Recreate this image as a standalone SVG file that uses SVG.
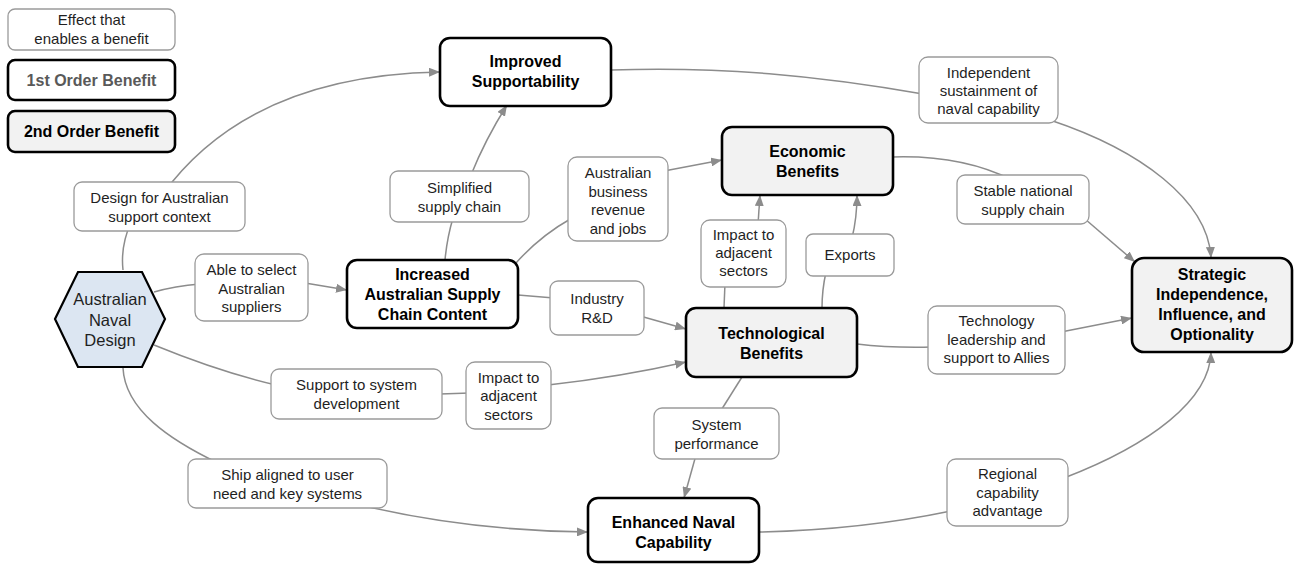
<svg xmlns="http://www.w3.org/2000/svg" width="1301" height="565" viewBox="0 0 1301 565">
<style>
  text { font-family: "Liberation Sans", Arial, sans-serif; fill: #1f1f1f; text-anchor: middle; }
  .lbl rect { fill: #ffffff; stroke: #9a9a9a; stroke-width: 1.3; }
  .lbl text { font-size: 15px; }
  .n1 rect { fill: #ffffff; stroke: #000000; stroke-width: 2.6; }
  .n2 rect { fill: #f2f2f2; stroke: #000000; stroke-width: 2.6; }
  .n1 text, .n2 text { font-size: 16px; font-weight: bold; fill: #000000; }
  .conn path { fill: none; stroke: #8c8c8c; stroke-width: 1.5; }
  .arr { marker-end: url(#ah); }
</style>
<defs>
  <marker id="ah" markerUnits="userSpaceOnUse" markerWidth="11" markerHeight="9" refX="11" refY="4.5" orient="auto">
    <path d="M0,0 L11,4.5 L0,9 z" fill="#8c8c8c"/>
  </marker>
</defs>
<rect width="1301" height="565" fill="#ffffff"/>

<g id="connectors" class="conn">
  <!-- Hex -> Design for Australian support context -> Improved Supportability -->
  <path d="M123,270 C 121,252 124,238 131,222"/>
  <path class="arr" d="M162,195 C 225,108 325,74 440,72"/>
  <!-- Hex -> Able to select -> Increased -->
  <path d="M154,292 Q 175,286 200,284"/>
  <path class="arr" d="M305,283 L347,290"/>
  <!-- Hex -> Support to system development -> Impact -> Technological -->
  <path d="M154,345 Q 220,372 276,385"/>
  <path d="M440,394 L470,393"/>
  <path class="arr" d="M548,385 Q 620,377 686,362"/>
  <!-- Hex -> Ship aligned -> Enhanced -->
  <path d="M123,368 C 125,410 170,440 218,463"/>
  <path class="arr" d="M360,505 Q 470,531 588,532"/>
  <!-- Increased -> Simplified -> Improved -->
  <path d="M445,260 Q 447,238 453,218"/>
  <path class="arr" d="M471,175 Q 485,140 507,105"/>
  <!-- Increased -> Australian business -> Economic -->
  <path d="M516,263 Q 540,236 572,218"/>
  <path class="arr" d="M664,171 L722,160"/>
  <!-- Increased -> Industry R&D -> Technological -->
  <path d="M518,295 L554,298"/>
  <path class="arr" d="M640,316 L686,329"/>
  <!-- Technological -> Impact (upper) -> Economic -->
  <path d="M724,308 L725,283"/>
  <path class="arr" d="M758,224 L760,195"/>
  <!-- Technological -> Exports -> Economic -->
  <path d="M822,308 Q 822,290 826,272"/>
  <path class="arr" d="M852,238 Q 857,218 857,195"/>
  <!-- Technological -> Technology leadership -> Strategic -->
  <path d="M857,344 Q 890,348 932,347"/>
  <path class="arr" d="M1061,332 L1132,318"/>
  <!-- Technological -> System performance -> Enhanced -->
  <path d="M742,377 L720,412"/>
  <path class="arr" d="M696,455 L684,498"/>
  <!-- Improved -> Independent sustainment -> Strategic -->
  <path d="M611,70 C 720,66 820,76 923,94"/>
  <path class="arr" d="M1050,120 C 1140,150 1208,200 1211,258"/>
  <!-- Economic -> Stable national -> Strategic -->
  <path d="M893,157 Q 962,155 1012,180"/>
  <path class="arr" d="M1085,219 L1135,262"/>
  <!-- Enhanced -> Regional -> Strategic -->
  <path d="M759,532 Q 860,530 951,511"/>
  <path class="arr" d="M1064,478 C 1150,445 1210,400 1211,352"/>
</g>

<g id="legend-effect" class="lbl">
  <rect x="8" y="9" width="167" height="41" rx="7"/>
  <text x="91.5" y="25">Effect that</text>
  <text x="91.5" y="44">enables a benefit</text>
</g>
<g id="legend-first" class="n1">
  <rect x="8" y="60" width="167" height="40" rx="7"/>
  <text x="91.5" y="86" style="fill:#595959">1st Order Benefit</text>
</g>
<g id="legend-second" class="n2">
  <rect x="8" y="111" width="167" height="41" rx="7"/>
  <text x="91.5" y="137">2nd Order Benefit</text>
</g>

<g id="australian-naval-design">
  <polygon points="55,319 78,272 142,272 165,319 142,367 78,367" fill="#dce6f2" stroke="#000000" stroke-width="2.2"/>
  <text x="110" y="305" style="font-size:16.5px">Australian</text>
  <text x="110" y="325.5" style="font-size:16.5px">Naval</text>
  <text x="110" y="346" style="font-size:16.5px">Design</text>
</g>

<g id="improved-supportability" class="n1">
  <rect x="440" y="38" width="171" height="68" rx="10"/>
  <text x="525.5" y="67">Improved</text>
  <text x="525.5" y="87">Supportability</text>
</g>
<g id="economic-benefits" class="n2">
  <rect x="722" y="127" width="171" height="68" rx="10"/>
  <text x="807.5" y="157">Economic</text>
  <text x="807.5" y="177">Benefits</text>
</g>
<g id="strategic" class="n2">
  <rect x="1132" y="258" width="160" height="94" rx="12"/>
  <text x="1212" y="280">Strategic</text>
  <text x="1212" y="300">Independence,</text>
  <text x="1212" y="320">Influence, and</text>
  <text x="1212" y="340">Optionality</text>
</g>
<g id="increased-supply-chain" class="n1">
  <rect x="347" y="260" width="171" height="68" rx="10"/>
  <text x="432.5" y="280">Increased</text>
  <text x="432.5" y="300">Australian Supply</text>
  <text x="432.5" y="320">Chain Content</text>
</g>
<g id="technological-benefits" class="n2">
  <rect x="686" y="308" width="171" height="69" rx="10"/>
  <text x="771.5" y="338.5">Technological</text>
  <text x="771.5" y="358.5">Benefits</text>
</g>
<g id="enhanced-naval-capability" class="n1">
  <rect x="588" y="498" width="171" height="64" rx="10"/>
  <text x="673.5" y="527.5">Enhanced Naval</text>
  <text x="673.5" y="547.5">Capability</text>
</g>

<g id="lbl-design-support" class="lbl">
  <rect x="74" y="182" width="171" height="49" rx="8"/>
  <text x="159.5" y="203">Design for Australian</text>
  <text x="159.5" y="222">support context</text>
</g>
<g id="lbl-simplified" class="lbl">
  <rect x="390" y="171" width="139" height="51" rx="8"/>
  <text x="459.5" y="193">Simplified</text>
  <text x="459.5" y="212">supply chain</text>
</g>
<g id="lbl-business" class="lbl">
  <rect x="568" y="157" width="100" height="84" rx="9"/>
  <text x="618" y="178">Australian</text>
  <text x="618" y="196.5">business</text>
  <text x="618" y="215">revenue</text>
  <text x="618" y="233.5">and jobs</text>
</g>
<g id="lbl-independent" class="lbl">
  <rect x="919" y="57" width="139" height="66" rx="9"/>
  <text x="988.5" y="78">Independent</text>
  <text x="988.5" y="96">sustainment of</text>
  <text x="988.5" y="114">naval capability</text>
</g>
<g id="lbl-stable" class="lbl">
  <rect x="957" y="175" width="132" height="49" rx="8"/>
  <text x="1023" y="196">Stable national</text>
  <text x="1023" y="214.5">supply chain</text>
</g>
<g id="lbl-impact-upper" class="lbl">
  <rect x="701" y="220" width="85" height="67" rx="9"/>
  <text x="743.5" y="240">Impact to</text>
  <text x="743.5" y="258">adjacent</text>
  <text x="743.5" y="276">sectors</text>
</g>
<g id="lbl-exports" class="lbl">
  <rect x="806" y="234" width="88" height="42" rx="7"/>
  <text x="850" y="260">Exports</text>
</g>
<g id="lbl-able-select" class="lbl">
  <rect x="195" y="254" width="113" height="67" rx="9"/>
  <text x="251.5" y="275">Able to select</text>
  <text x="251.5" y="293.5">Australian</text>
  <text x="251.5" y="312">suppliers</text>
</g>
<g id="lbl-industry-rd" class="lbl">
  <rect x="550" y="281" width="94" height="54" rx="8"/>
  <text x="597" y="304">Industry</text>
  <text x="597" y="323">R&amp;D</text>
</g>
<g id="lbl-tech-leadership" class="lbl">
  <rect x="928" y="306" width="137" height="68" rx="9"/>
  <text x="996.5" y="326">Technology</text>
  <text x="996.5" y="344.5">leadership and</text>
  <text x="996.5" y="363">support to Allies</text>
</g>
<g id="lbl-support-system" class="lbl">
  <rect x="271" y="369" width="171" height="50" rx="8"/>
  <text x="356.5" y="390">Support to system</text>
  <text x="356.5" y="408.5">development</text>
</g>
<g id="lbl-impact-lower" class="lbl">
  <rect x="466" y="362" width="85" height="67" rx="9"/>
  <text x="508.5" y="383">Impact to</text>
  <text x="508.5" y="401">adjacent</text>
  <text x="508.5" y="419.5">sectors</text>
</g>
<g id="lbl-system-performance" class="lbl">
  <rect x="654" y="408" width="125" height="51" rx="8"/>
  <text x="716.5" y="430">System</text>
  <text x="716.5" y="448.5">performance</text>
</g>
<g id="lbl-ship-aligned" class="lbl">
  <rect x="188" y="459" width="199" height="49" rx="8"/>
  <text x="287.5" y="480">Ship aligned to user</text>
  <text x="287.5" y="498.5">need and key systems</text>
</g>
<g id="lbl-regional" class="lbl">
  <rect x="947" y="459" width="121" height="67" rx="9"/>
  <text x="1007.5" y="479">Regional</text>
  <text x="1007.5" y="497.5">capability</text>
  <text x="1007.5" y="516">advantage</text>
</g>
</svg>
